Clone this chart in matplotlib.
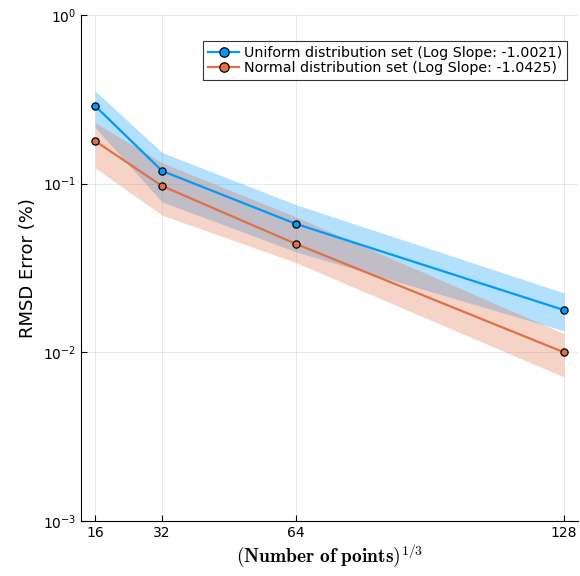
import matplotlib.pyplot as plt

# cube root of the number of points
n_side = [16, 32, 64, 128]

uniform_err = [0.289, 0.119, 0.0577, 0.0178]
uniform_lo = [0.215, 0.078, 0.0394, 0.0134]
uniform_hi = [0.355, 0.153, 0.075, 0.0225]

normal_err = [0.179, 0.0969, 0.0439, 0.0100]
normal_lo = [0.124, 0.065, 0.034, 0.00714]
normal_hi = [0.230, 0.133, 0.0635, 0.0129]

labels = ['Uniform distribution set (Log Slope: -1.0021)',
          'Normal distribution set (Log Slope: -1.0425)']
colors = ['#009AFA', '#E36F47']

yticks = [1e-3, 1e-2, 1e-1, 1e0]
ytick_labels = [r'$10^{-3}$', r'$10^{-2}$', r'$10^{-1}$', r'$10^{0}$']

plt.rcParams['font.family'] = 'DejaVu Sans'

fig = plt.figure(figsize=(5.8, 5.76), dpi=100)
ax = fig.add_axes([0.1397, 0.0955, 0.857, 0.8785])

series = [(uniform_err, uniform_lo, uniform_hi), (normal_err, normal_lo, normal_hi)]
for (err, lo, hi), c, lab in zip(series, colors, labels):
    ax.fill_between(n_side, lo, hi, color=c, alpha=0.3, linewidth=0)
    ax.plot(n_side, err, color=c, lw=1.6, marker='o', ms=5.2,
            mec='black', mew=0.9, label=lab)

ax.set_yscale('log')
ax.set_ylim(1e-3, 1e0)
span = n_side[-1] - n_side[0]
ax.set_xlim(n_side[0] - 0.03 * span, n_side[-1] + 0.03 * span)
ax.set_xticks(n_side)
ax.set_xticklabels([str(v) for v in n_side])
ax.set_yticks(yticks)
ax.set_yticklabels(ytick_labels)
ax.minorticks_off()
ax.tick_params(direction='in', length=4, width=0.8, labelsize=10, colors='black')

ax.grid(True, color='black', alpha=0.1, lw=0.6)
ax.set_axisbelow(True)
for s in ['top', 'right']:
    ax.spines[s].set_visible(False)

ax.set_ylabel('RMSD Error (%)', fontsize=13)
ax.set_xlabel(r'$(\mathbf{Number\ of\ points})^{1/3}$', fontsize=14,
              math_fontfamily='cm', labelpad=2)

leg = ax.legend(loc='upper right', bbox_to_anchor=(0.992, 0.962), fontsize=10.3,
                frameon=True, fancybox=False, edgecolor='black',
                handlelength=2.2, handletextpad=0.3, borderpad=0.35,
                labelspacing=0.05, markerscale=1.3)
leg.get_frame().set_linewidth(0.8)

fig.savefig('out.png', dpi=100)
